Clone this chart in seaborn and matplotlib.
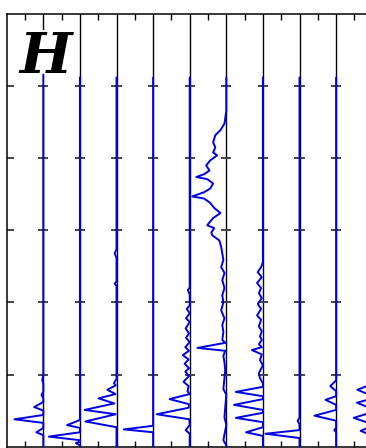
import matplotlib
matplotlib.use("Agg")
import matplotlib.pyplot as plt
import seaborn as sns
import numpy as np

# ---- data (height in tick units, leftward deflection in column units) ----
panel_label = "H"
column_positions = [1, 2, 3, 4, 5, 6, 7, 8, 9, 10]
y_tick_values = [1, 2, 3, 4, 5]
x_tick_values = [0.5, 1.5, 2.5, 3.5, 4.5, 5.5, 6.5, 7.5, 8.5, 9.5, 10.5]

col1_y = [5.16, 0.99, 0.92, 0.88, 0.76, 0.72, 0.67, 0.62, 0.55, 0.50, 0.44, 0.38, 0.33, 0.26, 0.20, 0.16, 0.0]
col1_d = [0, 0, 0.03, 0, 0, 0.05, 0, 0, 0.25, 0, 0, 0.79, 0, 0, 0.19, 0, 0]

col2_y = [5.12, 0.37, 0.30, 0.26, 0.20, 0.14, 0.09, 0.07, 0.05, 0.02, 0.0]
col2_d = [0, 0, 0.35, 0, 0, 0.85, 0, 0, 0.11, 0, 0]

col3_y = [5.12, 2.74, 2.68, 2.62, 2.29, 2.26, 2.23, 0.94, 0.88, 0.85, 0.79, 0.73, 0.67, 0.60, 0.51, 0.45, 0.35, 0.27, 0.0]
col3_d = [0, 0, 0.05, 0, 0, 0.05, 0, 0, 0.07, 0.02, 0.25, 0.03, 0.49, 0.06, 0.87, 0.02, 0.85, 0, 0]

col4_y = [5.12, 0.29, 0.24, 0.20, 0.0]
col4_d = [0, 0, 0.80, 0, 0]

col5_y = [5.12, 2.21, 2.17, 2.11, 1.96, 1.91, 1.85, 1.78, 1.73, 1.64, 1.57, 1.51, 1.45, 1.38, 1.33,
          1.27, 1.21, 1.15, 1.09, 1.04, 0.98, 0.90, 0.84, 0.77, 0.73, 0.66, 0.59, 0.54, 0.45, 0.38,
          0.30, 0.23, 0.18, 0.0]
col5_d = [0, 0, 0.05, 0, 0, 0.08, 0, 0.10, 0, 0.11, 0.02, 0.10, 0, 0.12, 0.02,
          0.19, 0.03, 0.14, 0.02, 0.12, 0.02, 0.17, 0.03, 0.06, 0, 0.55, 0.02, 0.03, 0.90, 0.01,
          0, 0.11, 0, 0]

col6_y = [5.12, 4.66, 4.55, 4.48, 4.39, 4.32, 4.22, 4.15, 4.08, 4.04, 3.97, 3.90, 3.83, 3.78, 3.74,
          3.71, 3.65, 3.58, 3.53, 3.47, 3.44, 3.38, 3.31, 3.24, 3.17, 3.11, 3.07, 3.03, 2.97, 2.93,
          2.86, 2.77, 2.68, 2.59, 2.49, 2.41, 2.31, 2.20, 2.10, 2.00, 1.89, 1.78, 1.69, 1.59, 1.48,
          1.44, 1.37, 1.33, 1.26, 1.17, 1.06, 0.80, 0.72, 0.41, 0.30, 0.09, 0.02, 0.0]
col6_d = [0, 0, 0.03, 0.05, 0.16, 0.30, 0.36, 0.30, 0.36, 0.25, 0.44, 0.55, 0.46, 0.60, 0.82,
          0.52, 0.36, 0.44, 0.60, 0.93, 0.60, 0.44, 0.33, 0.16, 0.36, 0.46, 0.52, 0.33, 0.41, 0.38,
          0.19, 0.14, 0.11, 0.08, 0.14, 0.05, 0.11, 0.05, 0.11, 0.08, 0.14, 0.05, 0.11, 0.08, 0.11,
          0.03, 0.79, 0.03, 0.08, 0.05, 0.03, 0.08, 0, 0.05, 0, 0.08, 0, 0]

col7_y = [5.12, 2.56, 2.49, 2.42, 2.35, 2.27, 2.20, 2.13, 2.06, 1.98, 1.91, 1.82, 1.76, 1.67, 1.60,
          1.53, 1.48, 1.42, 1.38, 1.34, 1.28, 1.20, 1.13, 1.02, 0.95, 0.88, 0.83, 0.76, 0.70, 0.66,
          0.58, 0.51, 0.47, 0.40, 0.34, 0.27, 0.20, 0.15, 0.0]
col7_d = [0, 0, 0.05, 0.14, 0.03, 0.16, 0.05, 0.11, 0.03, 0.14, 0.05, 0.16, 0.05, 0.11, 0.03,
          0.08, 0.03, 0.11, 0.03, 0.30, 0.03, 0.08, 0, 0.11, 0.08, 0, 0, 0.74, 0, 0,
          0.79, 0, 0, 0.74, 0, 0, 0.46, 0, 0]

col8_y = [5.12, 0.40, 0.36, 0.31, 0.23, 0.18, 0.12, 0.0]
col8_d = [0, 0, 0.05, 0, 0, 0.93, 0, 0]

col9_y = [5.12, 0.92, 0.84, 0.77, 0.70, 0.65, 0.58, 0.51, 0.43, 0.36, 0.26, 0.23, 0.20, 0.0]
col9_d = [0, 0, 0.16, 0, 0, 0.29, 0, 0, 0.59, 0, 0, 0.05, 0, 0]

col10_y = [5.12, 0.87, 0.79, 0.70, 0.67, 0.61, 0.52, 0.48, 0.40, 0.31, 0.29, 0.22, 0.15, 0.0]
col10_d = [0, 0, 0.42, 0, 0, 0.43, 0, 0, 0.52, 0, 0, 0.33, 0, 0]

columns_y = [col1_y, col2_y, col3_y, col4_y, col5_y, col6_y, col7_y, col8_y, col9_y, col10_y]
columns_d = [col1_d, col2_d, col3_d, col4_d, col5_d, col6_d, col7_d, col8_d, col9_d, col10_d]

# ---- figure ----
sns.set_style("white")
W, H = 366, 448
fig = plt.figure(figsize=(W / 100, H / 100), dpi=100)
px_per_unit_x = 36.6
left_px, top_px, bottom_px = 6.7, 14.0, 446.7
xmax = 11.0
ax = fig.add_axes([left_px / W, (H - bottom_px) / H,
                   xmax * px_per_unit_x / W, (bottom_px - top_px) / H])
ax.set_xlim(0, xmax)
ax.set_ylim(0, 6)

blue = "#0000e6"
tick_color = "#444444"

for xc in column_positions:
    ax.axvline(xc, color="black", lw=1.0, zorder=1)
    ax.hlines(y_tick_values, xc - 0.14, xc + 0.14, color=tick_color, lw=1.4, zorder=2)

for xc, ys, ds in zip(column_positions, columns_y, columns_d):
    xs = [xc - d for d in ds]
    sns.lineplot(x=xs, y=ys, sort=False, estimator=None, color=blue, lw=1.4,
                 ax=ax, zorder=6)

ax.set_xticks(x_tick_values)
ax.set_yticks(y_tick_values)
ax.set_xticklabels([])
ax.set_yticklabels([])
ax.tick_params(axis="x", which="both", direction="in", length=4, width=1.0,
               color="black", top=True, bottom=True)
ax.tick_params(axis="y", which="both", direction="in", length=5, width=1.4,
               color=tick_color, left=True, right=False)
for side in ["top", "bottom", "left"]:
    ax.spines[side].set_visible(True)
    ax.spines[side].set_color("black")
    ax.spines[side].set_linewidth(1.1)
ax.spines["right"].set_visible(False)
ax.set_xlabel("")
ax.set_ylabel("")

ax.text(1.07, 5.40, panel_label, fontsize=40, fontweight="bold", fontstyle="italic",
        family="DejaVu Serif", color="black", ha="center", va="center", zorder=5,
        bbox=dict(facecolor="white", edgecolor="none", pad=0))

fig.savefig("out.png", dpi=100)
